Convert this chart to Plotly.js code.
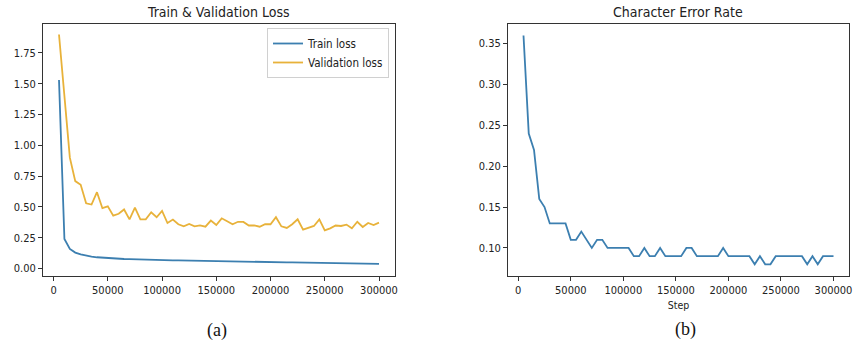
<!DOCTYPE html>
<html>
<head>
<meta charset="utf-8">
<script src="https://cdn.plot.ly/plotly-3.0.1.min.js"></script>
<style>html,body{margin:0;padding:0;background:#fff;}#chart{width:855px;height:345px;}</style>
</head>
<body>
<div id="chart"></div>
<script>
// Steps (shared x values)
const steps = [5000,10000,15000,20000,25000,30000,35000,40000,45000,50000,
  55000,60000,65000,70000,75000,80000,85000,90000,95000,100000,
  105000,110000,115000,120000,125000,130000,135000,140000,145000,150000,
  155000,160000,165000,170000,175000,180000,185000,190000,195000,200000,
  205000,210000,215000,220000,225000,230000,235000,240000,245000,250000,
  255000,260000,265000,270000,275000,280000,285000,290000,295000,300000];

const trainLoss = [1.53,0.24,0.16,0.13,0.115,0.104,0.097,0.092,0.088,0.085,
  0.082,0.080,0.078,0.077,0.075,0.073,0.072,0.071,0.070,0.069,
  0.068,0.067,0.066,0.065,0.064,0.063,0.062,0.062,0.061,0.060,
  0.059,0.059,0.058,0.057,0.056,0.056,0.055,0.054,0.054,0.053,
  0.052,0.052,0.051,0.050,0.049,0.049,0.048,0.047,0.046,0.045,
  0.044,0.044,0.043,0.042,0.041,0.040,0.039,0.039,0.038,0.038];

const valLoss = [1.90,1.40,0.90,0.71,0.68,0.53,0.52,0.62,0.49,0.505,
  0.43,0.445,0.48,0.40,0.495,0.40,0.40,0.457,0.417,0.468,
  0.37,0.398,0.36,0.343,0.363,0.343,0.35,0.34,0.39,0.354,
  0.408,0.384,0.36,0.38,0.379,0.35,0.35,0.34,0.36,0.36,
  0.417,0.343,0.33,0.36,0.40,0.316,0.33,0.346,0.40,0.31,
  0.327,0.35,0.346,0.357,0.327,0.38,0.338,0.37,0.354,0.373];

const cer = [0.36,0.24,0.22,0.16,0.15,0.13,0.13,0.13,0.13,0.11,
  0.11,0.12,0.11,0.10,0.11,0.11,0.10,0.10,0.10,0.10,
  0.10,0.09,0.09,0.10,0.09,0.09,0.10,0.09,0.09,0.09,
  0.09,0.10,0.10,0.09,0.09,0.09,0.09,0.09,0.10,0.09,
  0.09,0.09,0.09,0.09,0.08,0.09,0.08,0.08,0.09,0.09,
  0.09,0.09,0.09,0.09,0.08,0.09,0.08,0.09,0.09,0.09];

const lossTicks = [0,0.25,0.5,0.75,1.0,1.25,1.5,1.75];
const cerTicks = [0.10,0.15,0.20,0.25,0.30,0.35];
const stepTicks = [0,50000,100000,150000,200000,250000,300000];

const titles = ["Train & Validation Loss","Character Error Rate"];
const seriesNames = ["Train loss","Validation loss"];
const captions = ["(a)","(b)"];
const xLabel = "Step";

const FONT = "DejaVu Sans Condensed, Liberation Sans Narrow, DejaVu Sans, sans-serif";
const BLUE = "#3c7fb0";
const ORANGE = "#e8b23a";
const W = 855, H = 345;

function px(x){return x/W;}
function py(y){return (H-y)/H;}

const axCommon = {
  showline:true, mirror:true, linecolor:"#333", linewidth:1,
  ticks:"outside", ticklen:4, tickcolor:"#333", tickwidth:1,
  showgrid:false, zeroline:false,
  tickfont:{family:FONT, size:11, color:"#222"}
};

const data = [
  {x:steps, y:trainLoss, type:"scatter", mode:"lines", name:seriesNames[0],
   line:{color:BLUE, width:1.8}, xaxis:"x", yaxis:"y"},
  {x:steps, y:valLoss, type:"scatter", mode:"lines", name:seriesNames[1],
   line:{color:ORANGE, width:1.8}, xaxis:"x", yaxis:"y"},
  {x:steps, y:cer, type:"scatter", mode:"lines", name:"CER", showlegend:false,
   line:{color:BLUE, width:1.8}, xaxis:"x2", yaxis:"y2"}
];

const layout = {
  width:W, height:H,
  margin:{l:0,r:0,t:0,b:0},
  paper_bgcolor:"#fff", plot_bgcolor:"#fff",
  showlegend:true,
  legend:{x:px(389), y:py(28), xanchor:"right", yanchor:"top",
    bordercolor:"#d0d0d0", borderwidth:1, bgcolor:"rgba(255,255,255,0.9)",
    font:{family:FONT, size:11.5, color:"#222"}, itemwidth:30, tracegroupgap:0},
  xaxis:Object.assign({}, axCommon, {domain:[px(43), px(395)], anchor:"y",
    range:[-9750,314750], tickvals:stepTicks, tickformat:"d"}),
  yaxis:Object.assign({}, axCommon, {domain:[py(276), py(24)], anchor:"x",
    range:[-0.06,1.985], tickvals:lossTicks, tickformat:".2f"}),
  xaxis2:Object.assign({}, axCommon, {domain:[px(508), px(849)], anchor:"y2",
    range:[-9750,314750], tickvals:stepTicks, tickformat:"d",
    title:{text:xLabel, font:{family:FONT, size:10.5, color:"#222"}, standoff:5}}),
  yaxis2:Object.assign({}, axCommon, {domain:[py(276), py(24)], anchor:"x2",
    range:[0.0657,0.374], tickvals:cerTicks, tickformat:".2f"}),
  annotations:[
    {text:titles[0], xref:"paper", yref:"paper", x:px(218), y:py(12), showarrow:false,
     xanchor:"center", yanchor:"middle", font:{family:FONT, size:14, color:"#222"}},
    {text:titles[1], xref:"paper", yref:"paper", x:px(678), y:py(12), showarrow:false,
     xanchor:"center", yanchor:"middle", font:{family:FONT, size:14, color:"#222"}},
    {text:captions[0], xref:"paper", yref:"paper", x:px(217), y:py(330), showarrow:false,
     xanchor:"center", yanchor:"middle", font:{family:"Liberation Serif, Times New Roman, serif", size:18, color:"#111"}},
    {text:captions[1], xref:"paper", yref:"paper", x:px(685), y:py(329), showarrow:false,
     xanchor:"center", yanchor:"middle", font:{family:"Liberation Serif, Times New Roman, serif", size:18, color:"#111"}}
  ]
};

Plotly.newPlot("chart", data, layout, {displayModeBar:false, staticPlot:true});
</script>
</body>
</html>
